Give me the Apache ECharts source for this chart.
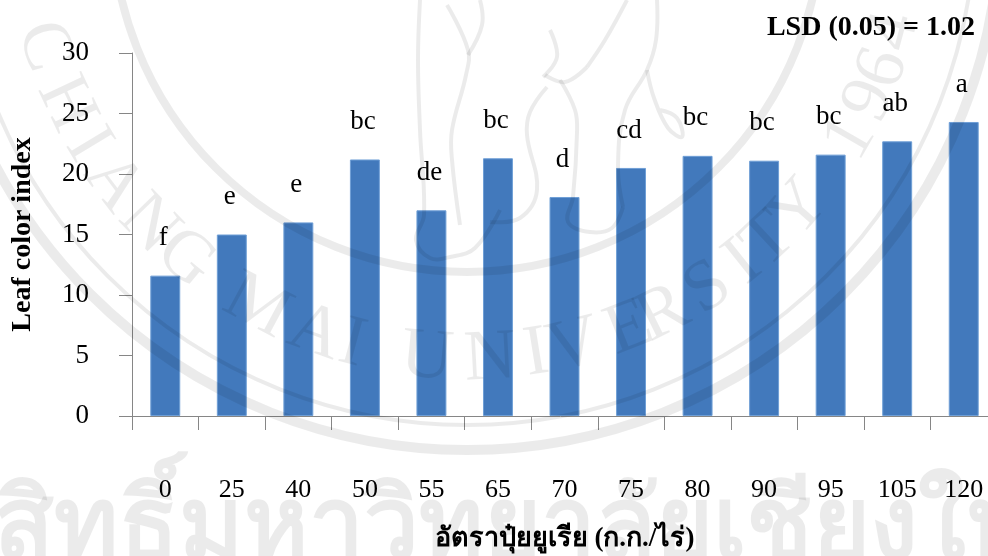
<!DOCTYPE html>
<html>
<head>
<meta charset="utf-8">
<style>
  html, body { margin: 0; padding: 0; background: #fff; overflow: hidden; }
  #chart { width: 988px; height: 556px; }
</style>
<script src="https://cdn.jsdelivr.net/npm/echarts@6/dist/echarts.min.js"></script>
</head>
<body>
<div id="chart"></div>
<script>
const ureaRates = ["0", "25", "40", "50", "55", "65", "70", "75", "80", "90", "95", "105", "120"];
const leafColorIndex = [11.6, 15.0, 16.0, 21.2, 17.0, 21.3, 18.1, 20.5, 21.5, 21.1, 21.6, 22.7, 24.3];
const groupLetters = ["f", "e", "e", "bc", "de", "bc", "d", "cd", "bc", "bc", "bc", "ab", "a"];
const yTicks = { min: 0, max: 30, interval: 5 };

const serif = '"Liberation Serif", "Noto Sans CJK SC", serif';
const inkColor = "#000";
const axisColor = "#868686";
const sealColor = "rgba(0, 0, 0, 0.08)";

// watermark seal behind the plot: rings, lettering round them, elephant outline
const sealCenter = [467, -83];
const sealText = "CHIANGMAIUNIVERSITY1964";
const sealAngles = [163, 155, 149, 143, 136, 129.5, 118.3, 110, 105, 95.2, 87, 81, 76, 68.5, 63.7, 57, 51.4, 47, 41.3, 30, 24.5, 20, 15];
const elephantLines = [
  [[420, 0], [418, 60], [420, 130], [424, 215], [416, 240], [430, 258], [450, 257], [475, 248], [500, 210]],
  [[447, 5], [468, 50], [466, 75], [452, 130], [452, 160], [460, 225]],
  [[480, 0], [482, 25], [468, 55]],
  [[547, 87], [530, 112], [527, 135], [537, 190], [520, 218], [490, 222]],
  [[560, 80], [575, 110], [577, 133], [573, 197], [568, 222], [590, 232], [612, 228], [623, 207]],
  [[587, 67], [605, 40], [627, 0]],
  [[545, 75], [565, 82], [587, 67]],
  [[550, 30], [557, 57], [543, 77]],
  [[657, 0], [656, 40], [647, 70], [625, 110], [618, 167], [623, 207]],
  [[647, 70], [654, 98], [668, 128], [682, 137], [677, 118], [660, 110]],
];
function sealRing(r, width) {
  return {
    type: "circle", silent: true, z: 100,
    shape: { cx: sealCenter[0], cy: sealCenter[1], r: r },
    style: { fill: "none", stroke: sealColor, lineWidth: width },
  };
}
function sealLetters(radius) {
  return Array.from(sealText).map((ch, i) => {
    const rad = (sealAngles[i] * Math.PI) / 180;
    return {
      type: "text", silent: true, z: 100,
      x: sealCenter[0] + radius * Math.cos(rad),
      y: sealCenter[1] + radius * Math.sin(rad),
      rotation: ((90 - sealAngles[i]) * Math.PI) / 180,
      style: {
        text: ch, fill: sealColor, font: '72px "Liberation Serif", serif',
        align: "center", verticalAlign: "middle",
      },
    };
  });
}

const chart = echarts.init(document.getElementById("chart"), null, { renderer: "canvas" });
chart.setOption({
  animation: false,
  backgroundColor: "#fff",
  grid: { left: 132, top: 53, width: 865, height: 363, containLabel: false, outerBoundsMode: "none" },
  xAxis: {
    type: "category",
    data: ureaRates,
    name: "อัตราปุ๋ยยูเรีย (ก.ก./ไร่)",
    nameLocation: "middle",
    nameGap: 110,
    nameTextStyle: { fontFamily: serif, fontSize: 27, fontWeight: "bold", color: inkColor },
    axisLine: { lineStyle: { color: axisColor, width: 1 } },
    axisTick: { show: true, length: 14, lineStyle: { color: axisColor } },
    axisLabel: { margin: 61, fontFamily: serif, fontSize: 26, color: inkColor, interval: 0 },
  },
  yAxis: {
    type: "value",
    min: yTicks.min,
    max: yTicks.max,
    interval: yTicks.interval,
    name: "Leaf color index",
    nameLocation: "middle",
    nameGap: 95,
    nameTextStyle: { fontFamily: serif, fontSize: 28, fontWeight: "bold", color: inkColor },
    axisLine: { show: true, lineStyle: { color: axisColor, width: 1 } },
    axisTick: { show: true, length: 13, lineStyle: { color: axisColor } },
    axisLabel: { margin: 43, fontFamily: serif, fontSize: 27, color: inkColor },
    splitLine: { show: false },
  },
  series: [
    {
      type: "bar",
      data: leafColorIndex,
      barWidth: "45%",
      itemStyle: { color: "#4279BC", borderColor: "#6F9FD6", borderWidth: 1 },
      label: {
        show: true,
        position: "top",
        distance: 24,
        offset: [-2, 0],
        fontFamily: serif,
        fontSize: 27,
        color: inkColor,
        formatter: (p) => groupLetters[p.dataIndex],
      },
    },
  ],
  graphic: [
    {
      type: "text", right: 13, top: 14,
      style: { text: "LSD (0.05) = 1.02", font: 'bold 28px "Liberation Serif", serif', fill: inkColor },
    },
    sealRing(355, 8),
    sealRing(508, 4),
    sealRing(533, 10),
    ...sealLetters(443),
    ...elephantLines.map((pts) => ({
      type: "polyline", silent: true, z: 100,
      shape: { points: pts, smooth: 0.4 },
      style: { fill: "none", stroke: sealColor, lineWidth: 4 },
    })),
    {
      type: "text", silent: true, z: 100, x: -133, y: 480,
      style: {
        text: "ลิขสิทธิ์มหาวิทยาลัยเชียงใหม่",
        font: 'bold 98px "Noto Sans", "Liberation Serif", sans-serif',
        fill: sealColor,
      },
    },
  ],
});
</script>
</body>
</html>
